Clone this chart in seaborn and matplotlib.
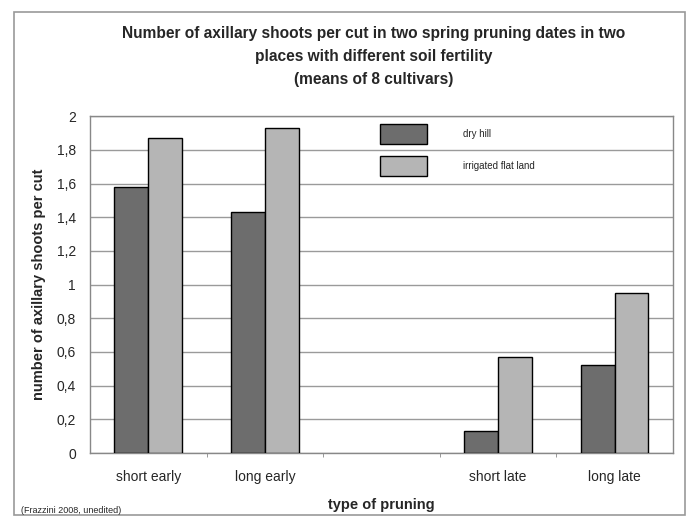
import matplotlib
matplotlib.use("Agg")
import matplotlib.pyplot as plt
from matplotlib.patches import Rectangle, Patch
from matplotlib.ticker import FuncFormatter, FixedLocator
import seaborn as sns
import pandas as pd

# data
categories = ['short early', 'long early', 'short late', 'long late']
order = ['short early', 'long early', '', 'short late', 'long late']
dry_hill = [1.58, 1.43, 0.13, 0.52]
irrigated = [1.87, 1.93, 0.57, 0.95]
series = ['dry hill', 'irrigated flat land']
colors = ['#6d6d6d', '#b5b5b5']

df = pd.DataFrame({
    'pruning': categories * 2,
    'shoots': dry_hill + irrigated,
    'place': [series[0]] * 4 + [series[1]] * 4,
})

sns.set_style('white')
plt.rcParams['font.family'] = ['Liberation Sans', 'DejaVu Sans']

fig = plt.figure(figsize=(6.92, 5.21), dpi=100)
ax = fig.add_axes([0.130, 0.1305, 0.8425, 0.6465])

sns.barplot(data=df, x='pruning', y='shoots', hue='place', order=order,
            hue_order=series, palette=colors, width=0.58, saturation=1,
            edgecolor='black', linewidth=1.0, legend=False, ax=ax, zorder=3)

ax.set_ylim(0, 2)
ax.set_xlim(-0.5, 4.5)
ax.set_yticks([i * 0.2 for i in range(11)])
ax.yaxis.set_major_formatter(FuncFormatter(
    lambda v, p: ('%g' % round(v, 1)).replace('.', ',')))
ax.grid(axis='y', color='#9a9a9a', linewidth=1.0, zorder=0)
ax.tick_params(axis='y', length=4, width=0.8, color='#888888', labelsize=10, pad=6)
ax.tick_params(axis='x', length=0, labelsize=10, pad=12)
ax.xaxis.set_minor_locator(FixedLocator([0.5, 1.5, 2.5, 3.5]))
ax.tick_params(axis='x', which='minor', length=3, color='#888888', bottom=True)
for s in ax.spines.values():
    s.set_color('#888888')
    s.set_linewidth(1.0)

ax.set_xlabel('type of pruning', fontsize=10.5, fontweight='bold', labelpad=10)
ax.set_ylabel('number of axillary shoots per cut', fontsize=10.5,
              fontweight='bold', labelpad=8)

handles = [Patch(facecolor=c, edgecolor='black', linewidth=1.0) for c in colors]
ax.legend(handles, series, loc='upper left', bbox_to_anchor=(0.483, 1.003),
          frameon=False, fontsize=7, handlelength=4.8, handleheight=2.8,
          labelspacing=1.25, handletextpad=3.7)

fig.text(0.54, 0.95, 'Number of axillary shoots per cut in two spring pruning dates in two\n'
         'places with different soil fertility\n(means of 8 cultivars)',
         ha='center', va='top', fontsize=11.2, fontweight='bold', linespacing=1.65)
fig.text(0.03, 0.012, '(Frazzini 2008, unedited)', fontsize=6.5, ha='left', va='bottom')

fig.patches.append(Rectangle((0.02, 0.012), 0.97, 0.965, transform=fig.transFigure,
                             fill=False, edgecolor='#999999', linewidth=1.2))

fig.savefig('out.png', dpi=100)
